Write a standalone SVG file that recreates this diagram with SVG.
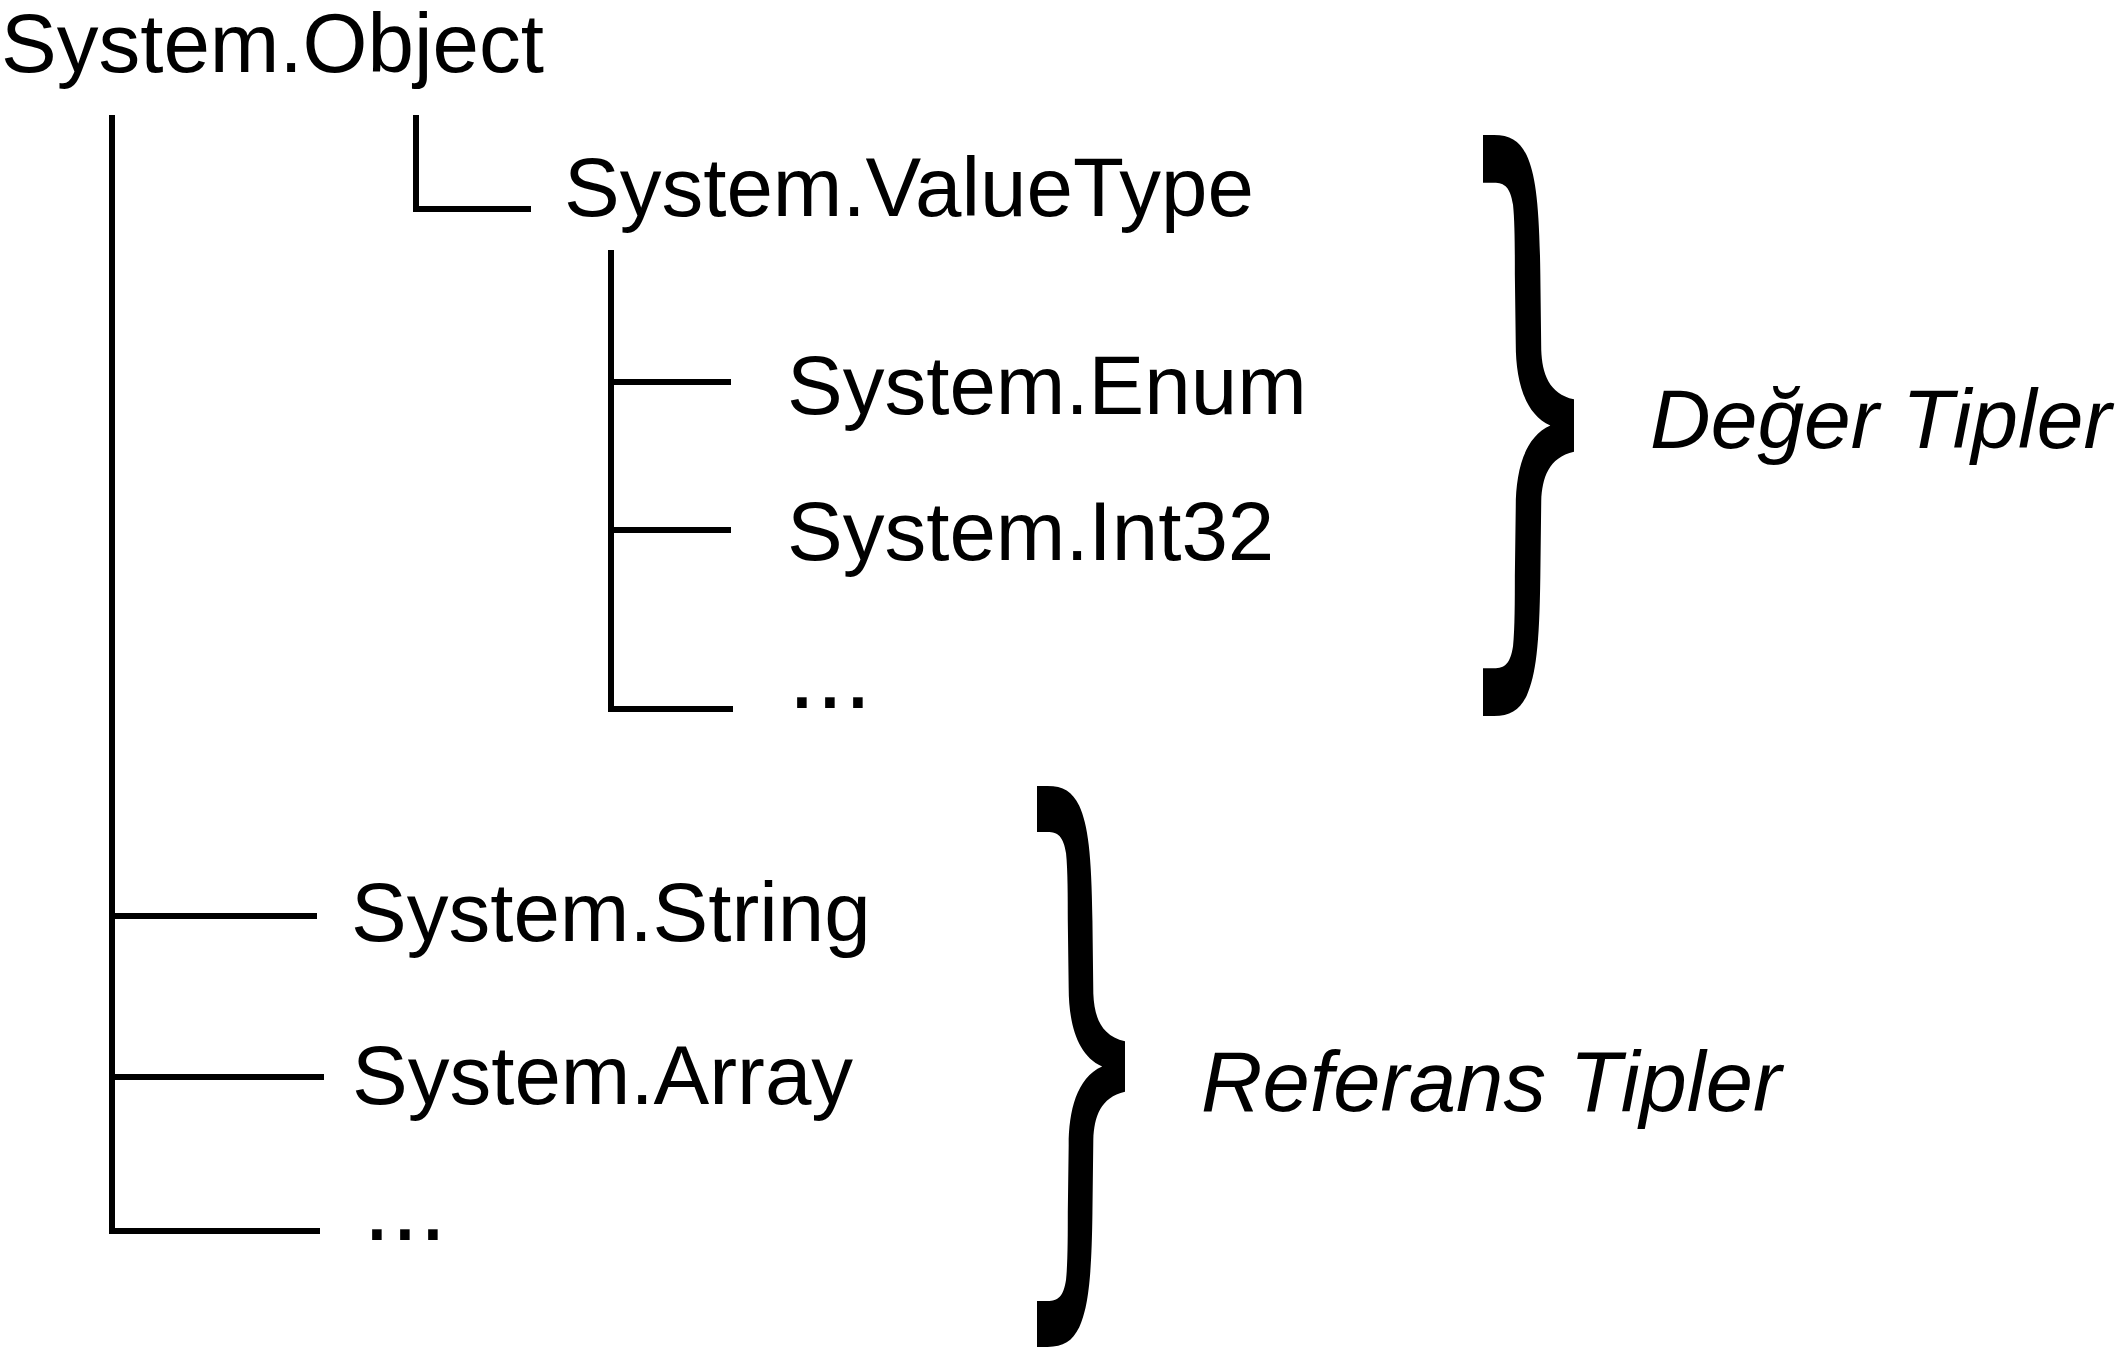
<svg xmlns="http://www.w3.org/2000/svg" width="2118" height="1349" viewBox="0 0 2118 1349">
<style>
text{font-family:"Liberation Sans",Arial,sans-serif;font-size:83.5px;fill:#000}
.it{font-style:italic}
.dots{font-size:100px;letter-spacing:0.2px}
.ln{stroke:#000;stroke-width:6;fill:none;stroke-linecap:butt}
.br{fill:#000}
</style>
<defs>
<path id="brace" d="M0,0 L12,0 C30,0 40,10 48,35 C58,70 62,120 63,240 L64,370 C65,410 72,445 100,455 L100,545 C72,555 65,590 64,630 L63,760 C62,880 58,930 48,965 C40,990 30,1000 12,1000 L0,1000 L0,918 L12,918 C24,918 30,910 33,880 C35,850 35,800 35,760 L36,640 C36,580 45,520 74,500 C45,480 36,420 36,360 L35,240 C35,200 35,150 33,120 C30,90 24,82 12,82 L0,82 Z"/>
</defs>
<rect width="2118" height="1349" fill="#fff"/>
<g id="connectors">
<path class="ln" d="M112,115 V1234"/>
<path class="ln" d="M416,115 V209 H531"/>
<path class="ln" d="M611,250 V709 H733"/>
<path class="ln" d="M611,382 H731"/>
<path class="ln" d="M611,530 H731"/>
<path class="ln" d="M112,916 H317"/>
<path class="ln" d="M112,1077 H324"/>
<path class="ln" d="M112,1231 H320"/>
</g>
<g id="node-object"><text x="1" y="72">System.Object</text></g>
<g id="node-valuetype"><text x="564" y="216">System.ValueType</text></g>
<g id="node-enum"><text x="787" y="414">System.Enum</text></g>
<g id="node-int32"><text x="787" y="560">System.Int32</text></g>
<g id="node-vt-more"><text class="dots" x="788" y="708">...</text></g>
<g id="node-string"><text x="351" y="941">System.String</text></g>
<g id="node-array"><text x="352" y="1104">System.Array</text></g>
<g id="node-ref-more"><text class="dots" x="363" y="1240">...</text></g>
<g id="brace-value"><use href="#brace" class="br" transform="translate(1483,135) scale(0.91,0.581)"/></g>
<g id="label-value"><text class="it" x="1650" y="448" style="font-size:84px">Değer Tipler</text></g>
<g id="brace-ref"><use href="#brace" class="br" transform="translate(1037,786) scale(0.88,0.561)"/></g>
<g id="label-ref"><text class="it" x="1201" y="1111" style="font-size:85px">Referans Tipler</text></g>
</svg>
